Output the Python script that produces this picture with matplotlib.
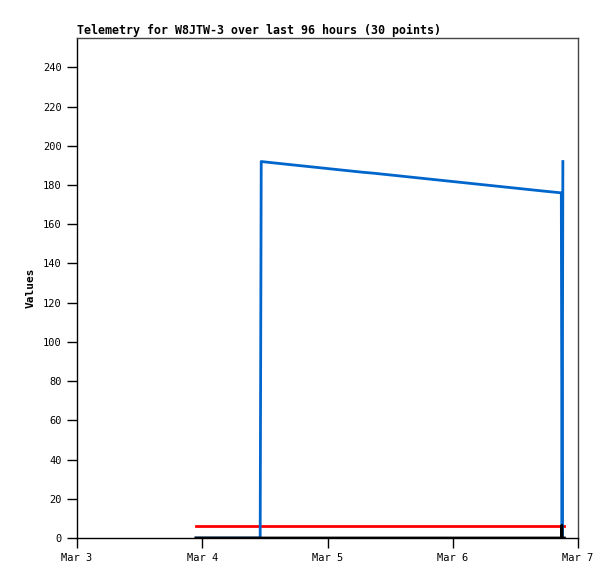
"""
Telemetry chart for W8JTW-3 (last 96 hours, 30 points).
"""
from datetime import datetime, timedelta

import matplotlib
matplotlib.use("Agg")
import matplotlib.pyplot as plt
import matplotlib.dates as mdates

# ---------------------------------------------------------------------------
# Data (hours since Mar 3 00:00)
# ---------------------------------------------------------------------------
START = datetime(2025, 3, 3)

blue_hours = [22.8, 28.0, 35.1, 35.3, 37.0, 39.5, 42.0, 44.5, 47.0, 49.5, 52.0,
              54.5, 57.0, 59.5, 62.0, 64.5, 67.0, 69.5, 72.0, 74.5, 77.0,
              79.5, 82.0, 84.5, 87.0, 89.5, 92.5, 92.8, 92.95, 93.1]
blue_vals = [0, 0, 0, 192, 191.5, 190.8, 190.1, 189.4, 188.7, 188.0, 187.3,
             186.6, 186.0, 185.3, 184.6, 183.9, 183.2, 182.5, 181.8, 181.1, 180.4,
             179.7, 179.0, 178.3, 177.6, 176.9, 176.1, 176.0, 0, 192]

red_hours = [22.8, 93.4]
red_vals = [6, 6]

black_hours = [22.8, 92.85, 92.9, 92.95, 93.4]
black_vals = [0, 0, 6.5, 0, 0]

title = "Telemetry for W8JTW-3 over last 96 hours (30 points)"
ylabel = "Values"
yticks = list(range(0, 241, 20))


def to_dates(hours):
    return [START + timedelta(hours=h) for h in hours]


def main() -> None:
    font = "DejaVu Sans Mono"
    fig = plt.figure(figsize=(6.15, 5.79), dpi=100)
    ax = fig.add_axes([77 / 615, 41 / 579, 501 / 615, 500 / 579])

    ax.plot(to_dates(red_hours), red_vals, color="#ff0000", lw=2.0, zorder=2)
    ax.plot(to_dates(blue_hours), blue_vals, color="#0066cc", lw=2.0, zorder=3)
    ax.plot(to_dates(black_hours), black_vals, color="#000000", lw=2.0, zorder=4)

    ax.set_xlim(START, START + timedelta(days=4))
    ax.set_ylim(0, 255)
    ax.set_yticks(yticks)
    ax.xaxis.set_major_locator(mdates.DayLocator())
    ax.xaxis.set_major_formatter(mdates.DateFormatter("%b %-d"))

    ax.tick_params(direction="out", length=7, width=1, labelsize=7.5,
                   colors="black", pad=4)
    for lab in ax.get_xticklabels() + ax.get_yticklabels():
        lab.set_fontfamily(font)

    for side in ("top", "right"):
        ax.spines[side].set_color("#444444")
        ax.spines[side].set_linewidth(1)
    for side in ("left", "bottom"):
        ax.spines[side].set_color("black")
        ax.spines[side].set_linewidth(1)

    ax.set_title(title, loc="left", fontfamily=font, fontweight="bold",
                 fontsize=8.4, pad=3)
    ax.set_ylabel(ylabel, fontfamily=font, fontweight="bold", fontsize=8)
    ax.yaxis.set_label_coords(-41 / 501, 0.5)

    fig.savefig("out.png", dpi=100)
    plt.close(fig)


if __name__ == "__main__":
    main()
